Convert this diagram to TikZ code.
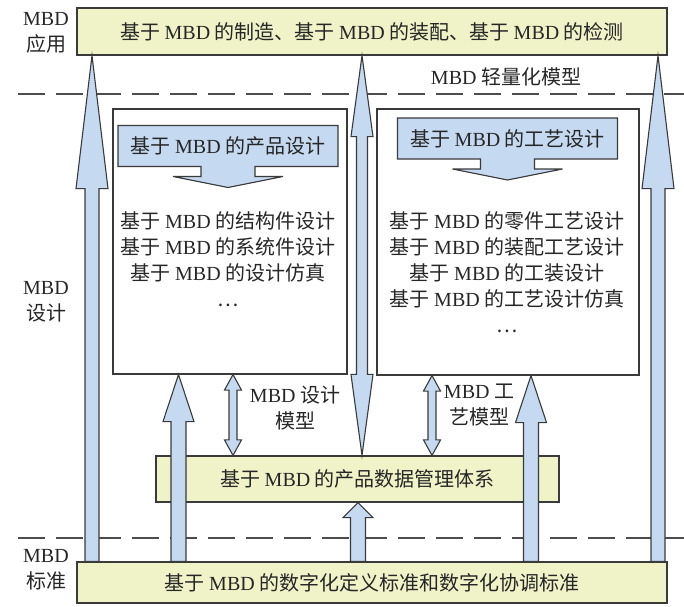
\documentclass[tikz,border=0pt]{standalone}
\usepackage{fontspec}
\setmainfont{Noto Sans CJK SC}
\newfontfamily\latfont{Liberation Serif}
\usepackage{tikz}
\usetikzlibrary{calc,backgrounds,positioning}
\definecolor{mbdYellow}{HTML}{F0F2C8}
\definecolor{mbdBlue}{HTML}{C5D9F1}
\definecolor{mbdLine}{HTML}{3A3A3A}
\newcommand{\MBD}{{\latfont MBD}}
% block arrow, tail #1 -> tip #2 (half shaft, half head, head length)
\newcommand{\blockup}[5]{%
  \filldraw[blk] ($(#1)+(-#3,0)$) -- ($(#2)+(-#3,#5)$) -- ($(#2)+(-#4,#5)$) -- (#2)
    -- ($(#2)+(#4,#5)$) -- ($(#2)+(#3,#5)$) -- ($(#1)+(#3,0)$) -- cycle;}
% block arrow with two heads, #1 lower tip, #2 upper tip
\newcommand{\blockboth}[5]{%
  \filldraw[blk] ($(#2)+(-#4,#5)$) -- (#2) -- ($(#2)+(#4,#5)$) -- ($(#2)+(#3,#5)$)
    -- ($(#1)+(#3,-#5)$) -- ($(#1)+(#4,-#5)$) -- (#1) -- ($(#1)+(-#4,-#5)$)
    -- ($(#1)+(-#3,-#5)$) -- ($(#2)+(-#3,#5)$) -- cycle;}
% title box with a down arrow under it
\newcommand{\headarrow}[1]{%
  \filldraw[blk] (#1.north west) -- (#1.north east) -- (#1.south east)
    -- ($(#1.south)+(27,0)$) -- ++(0,10) -- ++(28,0) -- ($(#1.south)+(0,21)$)
    -- ($(#1.south)+(-55,10)$) -- ++(28,0) -- ++(0,-10) -- (#1.south west) -- cycle;}

\begin{document}
\begin{tikzpicture}[x=1pt,y=-1pt,
  every node/.style={font=\fontsize{20}{26}\selectfont, text=black!85},
  layer/.style={draw=mbdLine, line width=1.2pt, fill=mbdYellow, inner sep=0pt},
  stage/.style={draw=mbdLine, line width=1.1pt, inner sep=0pt},
  headbox/.style={inner sep=0pt, outer sep=0pt, minimum width=220pt, minimum height=41pt},
  blk/.style={draw=mbdLine, line width=1.1pt, fill=mbdBlue, line join=miter},
  tier/.style={draw=black!70, line width=1.2pt, dash pattern=on 27pt off 11pt},
]
\useasboundingbox (0,0) rectangle (684,606);

% tiers
\coordinate (t1w) at (18,94);  \coordinate (t1e) at (684,94);
\coordinate (t2w) at (18,538); \coordinate (t2e) at (684,538);
\draw[tier] (t1w) -- (t1e);
\draw[tier] (t2w) -- (t2e);

% layers
\node[layer, minimum width=590pt, minimum height=47pt] (app) at (372,31.5)
  {基于 \MBD{} 的制造、基于 \MBD{} 的装配、基于 \MBD{} 的检测};
\node[layer, minimum width=590pt, minimum height=41pt] (std) at (372,582.5)
  {基于 \MBD{} 的数字化定义标准和数字化协调标准};
\node[layer, minimum width=403pt, minimum height=46pt] (pdm) at (357.5,479)
  {基于 \MBD{} 的产品数据管理体系};

\node[stage, minimum width=234pt, minimum height=265pt] (dsg) at (230,241.5) {};
\node[stage, minimum width=262pt, minimum height=266pt] (prc) at (508,242) {};

\node[headbox] (dhead) at (228,146) {基于 \MBD{} 的产品设计};
\node[headbox] (phead) at (507.5,138.5) {基于 \MBD{} 的工艺设计};
\begin{scope}[on background layer]
  \headarrow{dhead}
  \headarrow{phead}
\end{scope}

\node[align=center] (dlist) at (228,259)
  {基于 \MBD{} 的结构件设计\\基于 \MBD{} 的系统件设计\\基于 \MBD{} 的设计仿真\\…};
\node[align=center] (plist) at (507,272)
  {基于 \MBD{} 的零件工艺设计\\基于 \MBD{} 的装配工艺设计\\基于 \MBD{} 的工装设计\\基于 \MBD{} 的工艺设计仿真\\…};

% side labels
\node[align=center] (lapp) at (46,33) {\MBD\\应用};
\node[align=center] (ldsg) at (46,302) {\MBD\\设计};
\node[align=center] (lstd) at (46,570) {\MBD\\标准};
\node (light) at (506,77) {\MBD{} 轻量化模型};
\node[align=center] (dmod) at (295,408) {\MBD{} 设计\\模型};
\node[align=center] (pmod) at (479,405) {\MBD{} 工\\艺模型};

% arrows
\foreach \x in {92,658} {
  \coordinate (lo) at (\x,0 |- std.north);
  \coordinate (hi) at (\x,0 |- app.south);
  \blockup{lo}{hi}{7}{16}{133}
}
\coordinate (lo) at (178.5,0 |- std.north);
\coordinate (hi) at (178.5,0 |- dsg.south);
\blockup{lo}{hi}{7.5}{15.5}{47}
\coordinate (lo) at (531,0 |- std.north);
\coordinate (hi) at (531,0 |- prc.south);
\blockup{lo}{hi}{7.5}{15.5}{47}
\coordinate (lo) at (358,0 |- std.north);
\coordinate (hi) at (358,0 |- pdm.south);
\blockup{lo}{hi}{7.5}{15}{15}
\coordinate (lo) at (362,0 |- pdm.north);
\coordinate (hi) at (362,0 |- app.south);
\blockboth{lo}{hi}{5.5}{11}{81}
\coordinate (lo) at (233,0 |- pdm.north);
\coordinate (hi) at (233,0 |- dsg.south);
\blockboth{lo}{hi}{4}{8.5}{15.5}
\coordinate (lo) at (432,0 |- pdm.north);
\coordinate (hi) at (432,0 |- prc.south);
\blockboth{lo}{hi}{4}{8.5}{15.5}
\end{tikzpicture}
\end{document}
